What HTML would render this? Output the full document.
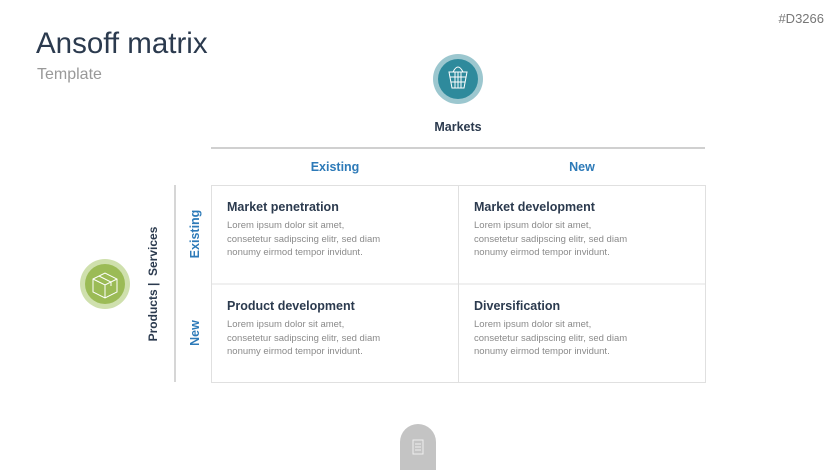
<!DOCTYPE html>
<html><head><style>
body{margin:0;width:836px;height:470px;background:#fff;position:relative;overflow:hidden;font-family:"Liberation Sans",sans-serif;}
.a{position:absolute;white-space:nowrap;}
.t{font-weight:bold;color:#2b3a4e;font-size:12.5px;}
.b{color:#8a8a8a;font-size:9.5px;line-height:13.5px;}
.bl{color:#2d7ab8;font-weight:bold;font-size:12.5px;}
.rot{transform:translate(-50%,-50%) rotate(-90deg);}
</style></head><body>
<div class="a" style="right:12px;top:11px;font-size:13px;color:#777;">#D3266</div>
<div class="a" style="left:36px;top:27px;font-size:29.5px;color:#2b3a4e;">Ansoff matrix</div>
<div class="a" style="left:37px;top:66px;font-size:16px;color:#999;">Template</div>

<svg class="a" style="left:0;top:0" width="836" height="470">
<circle cx="458" cy="79" r="25" fill="#9cc7cf"/><circle cx="458" cy="79" r="20" fill="#2e8a9c"/>
<g stroke="#fff" stroke-width="1" fill="none">
<path d="M449 72 L467 72 L464 88 L452 88 Z"/><path d="M453 72 Q458 62 463 72"/>
<path d="M450 77 H466 M451 82 H465 M455 72 V88 M458 72 V88 M461 72 V88"/></g>
<circle cx="105" cy="284" r="25" fill="#cfe0ad"/><circle cx="105" cy="284" r="20" fill="#9bbb56"/>
<g stroke="#fff" stroke-width="1" fill="none"><path d="M93 279 L105 273 L117 279 L117 292 L105 298 L93 292 Z M93 279 L105 285 L117 279 M105 285 V298 M99 276 L111 282 V286"/></g>
<line x1="211" y1="148" x2="705" y2="148" stroke="#d0d0d0" stroke-width="2"/>
<line x1="175" y1="185" x2="175" y2="382" stroke="#c8c8c8" stroke-width="1.5"/>
<rect x="211.5" y="185.5" width="494" height="197" fill="none" stroke="#e0e0e0"/>
<line x1="211" y1="284" x2="705" y2="284" stroke="#e0e0e0"/>
<line x1="458.5" y1="185" x2="458.5" y2="382" stroke="#e0e0e0"/>
<path d="M400 470 V442 A18 18 0 0 1 436 442 V470 Z" fill="#c4c4c4"/>
<rect x="413" y="440" width="10" height="14" fill="none" stroke="#eee" stroke-width="1"/>
<path d="M415 444 H421 M415 447 H421 M415 450 H421" stroke="#eee"/>
</svg>

<div class="a t" style="left:458px;top:120px;transform:translateX(-50%)">Markets</div>
<div class="a bl" style="left:335px;top:160px;transform:translateX(-50%)">Existing</div>
<div class="a bl" style="left:582px;top:160px;transform:translateX(-50%)">New</div>
<div class="a t rot" style="left:153px;top:284px;font-size:12px;">Products&nbsp;|&nbsp; Services</div>
<div class="a bl rot" style="left:195px;top:234px;">Existing</div>
<div class="a bl rot" style="left:195px;top:333px;">New</div>

<div class="a t" style="left:227px;top:200px;">Market penetration</div>
<div class="a b" style="left:227px;top:219px;">Lorem ipsum dolor sit amet,<br>consetetur sadipscing elitr, sed diam<br>nonumy eirmod tempor invidunt.</div>
<div class="a t" style="left:474px;top:200px;">Market development</div>
<div class="a b" style="left:474px;top:219px;">Lorem ipsum dolor sit amet,<br>consetetur sadipscing elitr, sed diam<br>nonumy eirmod tempor invidunt.</div>
<div class="a t" style="left:227px;top:299px;">Product development</div>
<div class="a b" style="left:227px;top:318px;">Lorem ipsum dolor sit amet,<br>consetetur sadipscing elitr, sed diam<br>nonumy eirmod tempor invidunt.</div>
<div class="a t" style="left:474px;top:299px;">Diversification</div>
<div class="a b" style="left:474px;top:318px;">Lorem ipsum dolor sit amet,<br>consetetur sadipscing elitr, sed diam<br>nonumy eirmod tempor invidunt.</div>
</body></html>
